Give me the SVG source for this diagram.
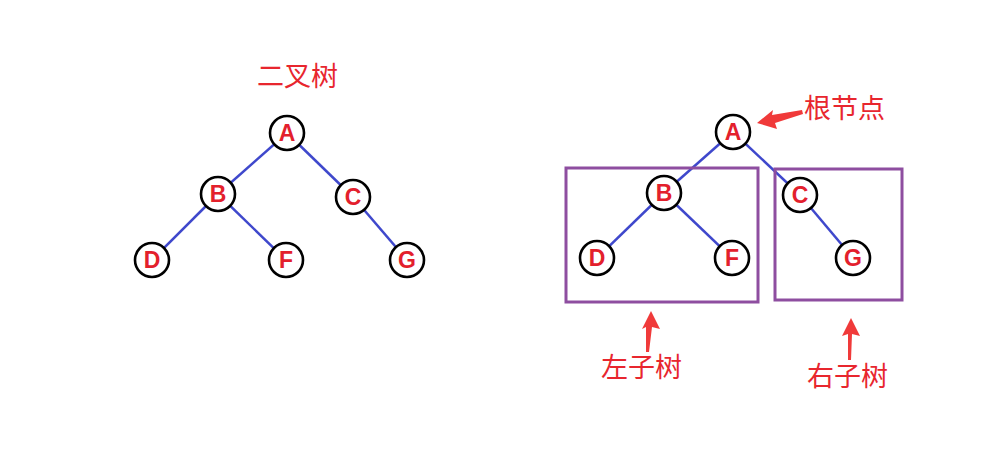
<svg xmlns="http://www.w3.org/2000/svg" width="989" height="451" viewBox="0 0 989 451">
<style>
.edge{stroke:#3f48cc;stroke-width:2.5;fill:none}
.node circle{fill:#fff;stroke:#000;stroke-width:2.6}
.node text{font-family:"Liberation Sans",Arial,sans-serif;font-weight:bold;font-size:23px;fill:#e3202c;text-anchor:middle}
.label{font-family:"Noto Sans CJK SC",sans-serif;font-size:27px;fill:#e8262e}
.box{fill:none;stroke:#8e4ea0;stroke-width:3}
.arrow{fill:#f03a3a}
</style>
<rect width="989" height="451" fill="#fff"/>
<text class="label" x="257" y="86">二叉树</text>
<g id="connectors">
<line class="edge" x1="287" y1="133" x2="218" y2="194"/>
<line class="edge" x1="287" y1="133" x2="353" y2="197"/>
<line class="edge" x1="218" y1="194" x2="152" y2="260"/>
<line class="edge" x1="218" y1="194" x2="286" y2="260"/>
<line class="edge" x1="353" y1="197" x2="407" y2="260"/>
<line class="edge" x1="733" y1="132" x2="664" y2="193"/>
<line class="edge" x1="733" y1="132" x2="800" y2="195"/>
<line class="edge" x1="664" y1="193" x2="597" y2="258"/>
<line class="edge" x1="664" y1="193" x2="732" y2="258"/>
<line class="edge" x1="800" y1="195" x2="853" y2="258"/>
</g>
<g id="L_A" class="node"><circle cx="287" cy="133" r="17"/><text x="287" y="141">A</text></g>
<g id="L_B" class="node"><circle cx="218" cy="194" r="17"/><text x="218" y="202">B</text></g>
<g id="L_C" class="node"><circle cx="353" cy="197" r="17"/><text x="353" y="205">C</text></g>
<g id="L_D" class="node"><circle cx="152" cy="260" r="17"/><text x="152" y="268">D</text></g>
<g id="L_F" class="node"><circle cx="286" cy="260" r="17"/><text x="286" y="268">F</text></g>
<g id="L_G" class="node"><circle cx="407" cy="260" r="17"/><text x="407" y="268">G</text></g>
<g id="R_A" class="node"><circle cx="733" cy="132" r="17"/><text x="733" y="140">A</text></g>
<g id="R_B" class="node"><circle cx="664" cy="193" r="17"/><text x="664" y="201">B</text></g>
<g id="R_C" class="node"><circle cx="800" cy="195" r="17"/><text x="800" y="203">C</text></g>
<g id="R_D" class="node"><circle cx="597" cy="258" r="17"/><text x="597" y="266">D</text></g>
<g id="R_F" class="node"><circle cx="732" cy="258" r="17"/><text x="732" y="266">F</text></g>
<g id="R_G" class="node"><circle cx="853" cy="258" r="17"/><text x="853" y="266">G</text></g>
<g id="left_subtree"><rect class="box" x="566" y="168" width="192" height="134"/></g>
<g id="right_subtree"><rect class="box" x="775" y="169" width="127" height="131"/></g>
<g id="root_label">
<polygon class="arrow" points="757,123 773,110 772,115 802,110 803,114 775,123 777,129"/>
<text class="label" x="804" y="118">根节点</text>
</g>
<g id="left_label">
<polygon class="arrow" points="651,311 660,329 652,327 649,352 646,352 646,327 642,329"/>
<text class="label" x="601" y="377">左子树</text>
</g>
<g id="right_label">
<polygon class="arrow" points="851,318 860,336 852,334 851,360 848,360 848,334 842,336"/>
<text class="label" x="807" y="386">右子树</text>
</g>
</svg>
